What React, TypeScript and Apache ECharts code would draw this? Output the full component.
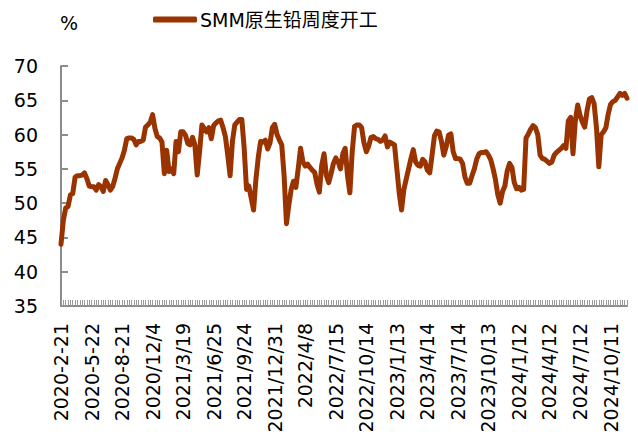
import React, { useEffect, useRef } from 'react';
import * as echarts from 'echarts';

const seriesName = 'SMM原生铅周度开工';
const unitLabel = '%';

const tickLabels = [
  '2020-2-21', '2020-5-22', '2020-8-21', '2020/12/4', '2021/3/19', '2021/6/25',
  '2021/9/24', '2021/12/31', '2022/4/8', '2022/7/15', '2022/10/14', '2023/1/13',
  '2023/4/14', '2023/7/14', '2023/10/13', '2024/1/12', '2024/4/12', '2024/7/12',
  '2024/10/11',
];

const values = [
  44.0, 47.5, 49.3, 49.5, 51.2, 51.4, 53.8, 54.0, 54.0, 54.1,
  54.4, 53.6, 52.5, 52.4, 52.4, 51.9, 52.7, 52.4, 51.7, 53.3,
  52.7, 51.9, 52.4, 53.6, 55.0, 55.8, 56.6, 57.7, 59.4, 59.5,
  59.5, 59.3, 58.5, 59.0, 59.0, 59.2, 61.1, 61.4, 61.8, 62.9,
  60.9, 59.7, 59.5, 58.9, 54.3, 57.7, 54.6, 55.0, 54.3, 59.0,
  57.5, 60.4, 60.4, 59.9, 58.7, 58.5, 59.6, 58.5, 54.1, 57.5,
  61.4, 60.9, 60.4, 61.0, 59.4, 61.3, 61.7, 62.0, 62.1, 61.0,
  59.7, 57.0, 54.0, 59.0, 61.4, 61.8, 62.2, 62.2, 58.0, 52.0,
  52.5, 50.7, 49.0, 53.5, 56.7, 59.0, 58.9, 59.2, 57.9, 58.8,
  61.0, 61.5, 60.0, 59.2, 58.5, 54.0, 47.0, 49.7, 52.0, 53.2,
  52.3, 55.0, 58.0, 56.0, 55.4, 55.7, 55.2, 54.8, 54.5, 52.8,
  51.6, 55.5, 57.2, 54.0, 53.0, 54.3, 55.8, 56.6, 56.0, 55.0,
  57.2, 58.0, 54.0, 51.5, 57.5, 61.2, 61.4, 61.4, 61.0, 58.8,
  57.5, 58.3, 59.6, 59.7, 59.4, 59.3, 59.0, 59.2, 59.8, 58.2,
  58.9, 58.7, 58.5, 55.0, 51.5, 49.0, 52.0, 53.5, 55.0, 56.5,
  57.8, 56.0, 55.5, 55.4, 56.4, 56.0, 54.8, 54.4, 57.0, 59.8,
  60.5, 60.4, 59.0, 57.0, 58.2, 59.9, 60.1, 57.5, 56.5, 56.5,
  56.4, 55.8, 53.8, 52.9, 52.9, 54.0, 55.0, 56.4, 57.2, 57.4,
  57.4, 57.5, 57.0, 56.3, 55.0, 53.4, 51.2, 50.0, 51.7, 52.5,
  54.7, 55.8, 55.2, 53.0, 52.1, 52.3, 51.9, 52.0, 59.5, 60.1,
  60.8, 61.3, 61.0, 60.0, 57.0, 56.5, 56.4, 56.1, 55.8, 56.0,
  57.0, 57.4, 57.7, 58.0, 58.4, 58.0, 62.0, 62.5, 57.2, 62.0,
  64.3, 62.8, 61.8, 61.1, 63.5, 65.2, 65.4, 64.5, 61.0, 55.3,
  60.0, 60.4, 61.0, 63.0, 64.4, 64.8, 65.0, 65.5, 66.0, 65.7,
  66.0, 65.3,
];

const LABEL_STEP = 13;

function buildCategories(): string[] {
  const out: string[] = [];
  for (let i = 0; i < values.length; i++) {
    const k = Math.floor(i / LABEL_STEP);
    const off = i % LABEL_STEP;
    const base = tickLabels[Math.min(k, tickLabels.length - 1)];
    if (off === 0 && k < tickLabels.length) {
      out.push(base);
    } else {
      const [y, m, d] = base.replace(/-/g, '/').split('/').map(Number);
      const extra = k >= tickLabels.length ? (i - (tickLabels.length - 1) * LABEL_STEP) : off;
      const dt = new Date(y, m - 1, d + 7 * extra);
      out.push(`${dt.getFullYear()}/${dt.getMonth() + 1}/${dt.getDate()}`);
    }
  }
  return out;
}

const FONT = '"DejaVu Sans", "Noto Sans CJK SC", sans-serif';

export default function App() {
  const ref = useRef<HTMLDivElement>(null);
  useEffect(() => {
    const chart = echarts.init(ref.current!, null, { renderer: 'svg' });
    const categories = buildCategories();
    chart.setOption({
      animation: false,
      backgroundColor: '#ffffff',
      title: {
        text: unitLabel,
        left: 55,
        top: 8,
        textStyle: { fontSize: 19, fontWeight: 'normal', color: '#000', fontFamily: FONT },
      },
      legend: {
        left: 153,
        top: 10,
        padding: 0,
        icon: 'roundRect',
        itemWidth: 44,
        itemHeight: 6,
        itemGap: 4,
        textStyle: { fontSize: 19, color: '#000', fontFamily: FONT, padding: [0, 0, 0, -2] },
        data: [seriesName],
      },
      grid: { left: 61, right: 11, top: 66, bottom: 135, containLabel: false },
      xAxis: {
        type: 'category',
        data: categories,
        boundaryGap: false,
        axisLine: { lineStyle: { color: '#8c8c8c', width: 2 } },
        axisTick: { show: true, inside: true, interval: 0, length: 6, lineStyle: { color: '#9a9a9a', width: 1 } },
        axisLabel: {
          interval: LABEL_STEP - 1,
          rotate: 90,
          margin: 17,
          fontSize: 19,
          color: '#000',
          fontFamily: FONT,
        },
        splitLine: { show: false },
      },
      yAxis: {
        type: 'value',
        min: 35,
        max: 70,
        interval: 5,
        axisLine: { show: true, lineStyle: { color: '#8c8c8c', width: 2 } },
        axisTick: { show: true, inside: true, length: 7, lineStyle: { color: '#8c8c8c', width: 2 } },
        axisLabel: { margin: 23, fontSize: 19, color: '#000', fontFamily: FONT },
        splitLine: { show: false },
      },
      series: [
        {
          name: seriesName,
          type: 'line',
          data: values,
          symbol: 'none',
          lineStyle: { color: '#993300', width: 5, join: 'round', cap: 'round' },
          itemStyle: { color: '#993300' },
        },
      ],
    });
    return () => chart.dispose();
  }, []);
  return <div ref={ref} style={{ position: 'fixed', left: 0, top: 0, width: 638, height: 441 }} />;
}
